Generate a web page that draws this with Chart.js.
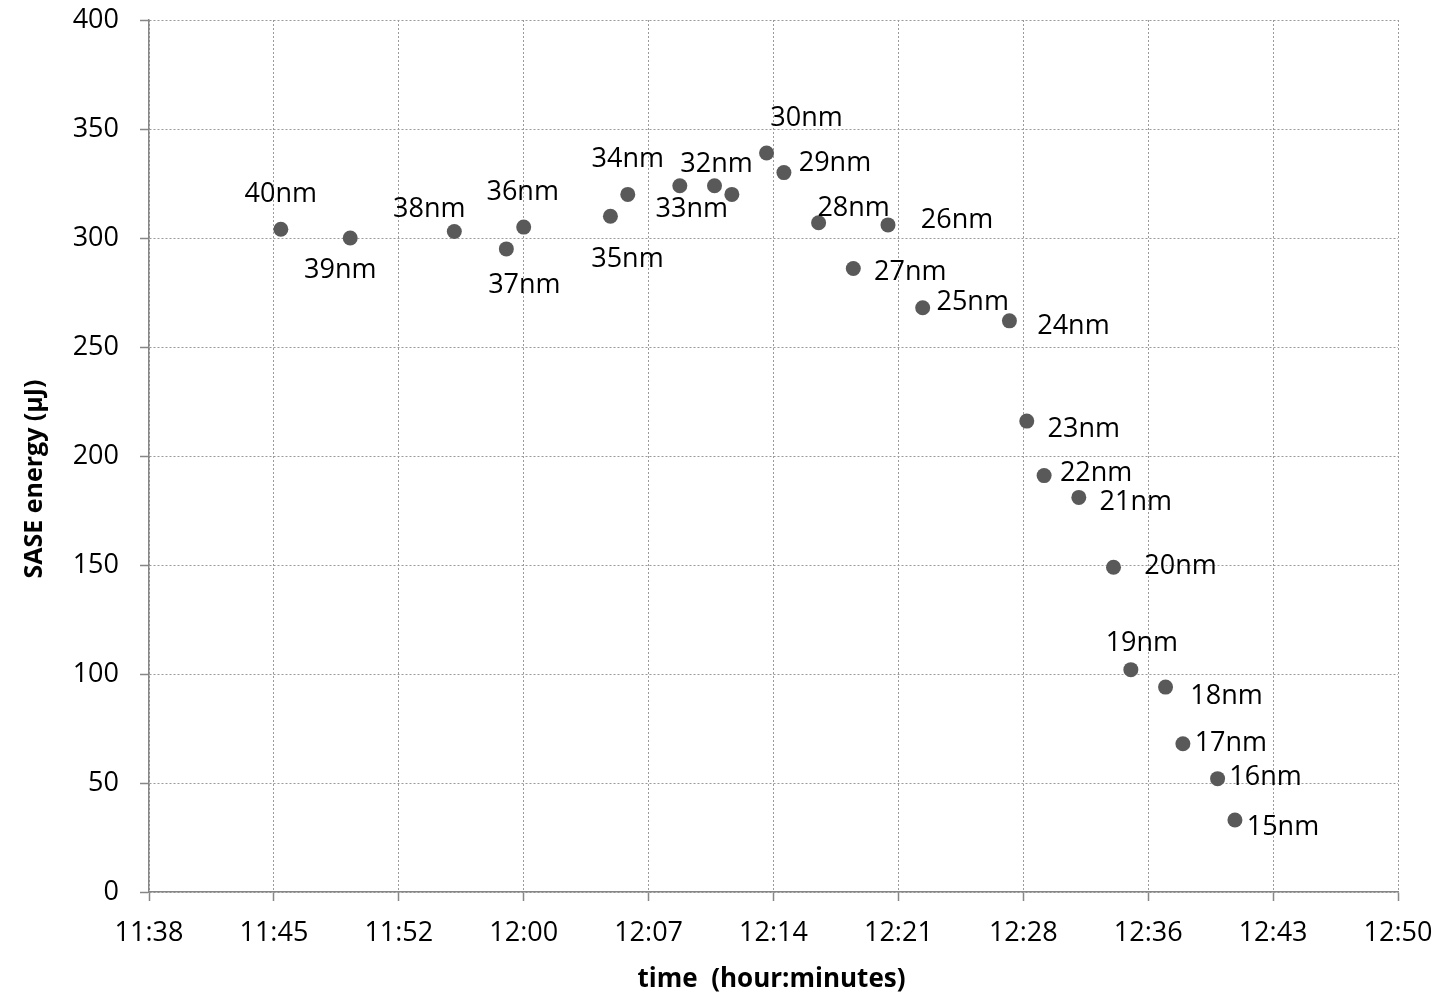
<!DOCTYPE html>
<html>
<head>
<meta charset="utf-8">
<script src="https://cdn.jsdelivr.net/npm/chart.js@4/dist/chart.umd.min.js"></script>
<style>
  html, body { margin: 0; padding: 0; background: #ffffff; }
  #wrap { width: 1454px; height: 996px; position: relative; }
</style>
</head>
<body>
<div id="wrap"><canvas id="chart" width="1454" height="996"></canvas></div>
<script>
// Wavelength set-points, in the order they were measured
const wavelengths = ['40nm', '39nm', '38nm', '37nm', '36nm', '35nm', '34nm', '33nm', '32nm', '', '30nm',
  '29nm', '28nm', '27nm', '26nm', '25nm', '24nm', '23nm', '22nm', '21nm', '20nm', '19nm', '18nm',
  '17nm', '16nm', '15nm'];

// Clock time of each measurement (hh:mm)
const times = ['11:46', '11:50', '11:56', '11:59', '12:00', '12:05', '12:06', '12:09', '12:11', '12:12', '12:14',
  '12:15', '12:17', '12:19', '12:21', '12:23', '12:28', '12:29', '12:30', '12:32', '12:34', '12:35', '12:37',
  '12:38', '12:40', '12:41'];

// SASE pulse energy in µJ
const energies = [304, 300, 303, 295, 305, 310, 320, 324, 324, 320, 339,
  330, 307, 286, 306, 268, 262, 216, 191, 181, 149, 102, 94,
  68, 52, 33];

// Time axis: bounds and tick labels (h:mm, truncated)
const xAxisStart = '11:38:24';
const xAxisEnd = '12:50:24';
const xTickLabels = ['11:38', '11:45', '11:52', '12:00', '12:07', '12:14', '12:21', '12:28', '12:36', '12:43', '12:50'];

// Energy axis ticks
const yTicks = [0, 50, 100, 150, 200, 250, 300, 350, 400];

// Where each wavelength label sits relative to its marker (px, label centre)
const labelOffsets = [[0, -37], [-10, 30], [-25, -24], [18, 34], [-1, -37], [17, 41], [0, -37], [12, 22], [2, -23], [0, 0], [40, -37],
  [51, -11], [35, -16], [57, 2], [69, -7], [50, -7], [64, 4], [57, 6], [52, -4], [57, 3], [67, -3], [11, -28], [61, 7],
  [48, -2], [48, -3], [48, 5]];

function toMinutes(s) {
  const p = s.split(':').map(Number);
  return p[0] * 60 + p[1] + (p[2] || 0) / 60;
}

const xMin = toMinutes(xAxisStart);
const xMax = toMinutes(xAxisEnd);
const xStep = (xMax - xMin) / (xTickLabels.length - 1);

const points = times.map((t, i) => ({ x: toMinutes(t), y: energies[i] }));

const FONT = '"Open Sans", "DejaVu Sans", sans-serif';
const AXIS_GREY = '#868686';
const GRID_GREY = '#9a9a9a';

const pointLabels = {
  id: 'pointLabels',
  afterDatasetsDraw(chart) {
    const ctx = chart.ctx;
    const meta = chart.getDatasetMeta(0);
    const size = 27;
    ctx.save();
    ctx.font = size + 'px ' + FONT;
    ctx.fillStyle = '#000000';
    ctx.textAlign = 'center';
    ctx.textBaseline = 'alphabetic';
    meta.data.forEach((pt, i) => {
      const text = wavelengths[i];
      if (!text) return;
      const off = labelOffsets[i];
      ctx.fillText(text, pt.x + off[0], pt.y + off[1] + size * 0.357);
    });
    ctx.restore();
  }
};

const axisTitles = {
  id: 'axisTitles',
  afterDraw(chart) {
    const ctx = chart.ctx;
    const area = chart.chartArea;
    ctx.save();
    ctx.fillStyle = '#000000';
    ctx.textAlign = 'center';
    ctx.textBaseline = 'alphabetic';
    ctx.font = 'bold 26px ' + FONT;
    ctx.fillText('time  (hour:minutes)', (area.left + area.right) / 2 - 2, 987);
    ctx.translate(42, (area.top + area.bottom) / 2 + 23);
    ctx.rotate(-Math.PI / 2);
    ctx.font = 'bold 25px ' + FONT;
    ctx.fillText('SASE energy (µJ)', 0, 0);
    ctx.restore();
  }
};

new Chart(document.getElementById('chart'), {
  type: 'scatter',
  data: {
    datasets: [{
      data: points,
      showLine: false,
      pointRadius: 7.5,
      pointHoverRadius: 7.5,
      pointBackgroundColor: '#595959',
      pointBorderWidth: 0,
      pointBorderColor: '#595959'
    }]
  },
  options: {
    responsive: false,
    devicePixelRatio: 1,
    animation: false,
    events: [],
    layout: { padding: { top: 20, right: 56, bottom: 0, left: 0 } },
    plugins: { legend: { display: false }, tooltip: { enabled: false } },
    scales: {
      x: {
        type: 'linear',
        min: xMin,
        max: xMax,
        afterBuildTicks(scale) {
          scale.ticks = xTickLabels.map((_, i) => ({ value: xMin + i * xStep }));
        },
        afterFit(scale) {
          scale.height = 104;
          scale.paddingLeft = 0;
          scale.paddingRight = 0;
        },
        grid: {
          color: GRID_GREY,
          lineWidth: 1,
          tickLength: 9,
          tickColor: AXIS_GREY,
          tickWidth: 1.5,
          tickBorderDash: []
        },
        border: { display: true, color: AXIS_GREY, width: 1.5, dash: [2, 2] },
        ticks: {
          autoSkip: false,
          maxRotation: 0,
          padding: 16,
          color: '#000000',
          font: { family: FONT, size: 27 },
          callback: (v, i) => xTickLabels[i]
        }
      },
      y: {
        min: 0,
        max: 400,
        afterBuildTicks(scale) {
          scale.ticks = yTicks.map(v => ({ value: v }));
        },
        afterFit(scale) {
          scale.width = 149;
          scale.paddingTop = 0;
          scale.paddingBottom = 0;
        },
        grid: {
          color: GRID_GREY,
          lineWidth: 1,
          tickLength: 9,
          tickColor: AXIS_GREY,
          tickWidth: 1.5,
          tickBorderDash: []
        },
        border: { display: true, color: AXIS_GREY, width: 1.5, dash: [2, 2] },
        ticks: {
          padding: 21,
          color: '#000000',
          font: { family: FONT, size: 27 },
          callback: v => String(v)
        }
      }
    }
  },
  plugins: [pointLabels, axisTitles]
});
</script>
</body>
</html>
